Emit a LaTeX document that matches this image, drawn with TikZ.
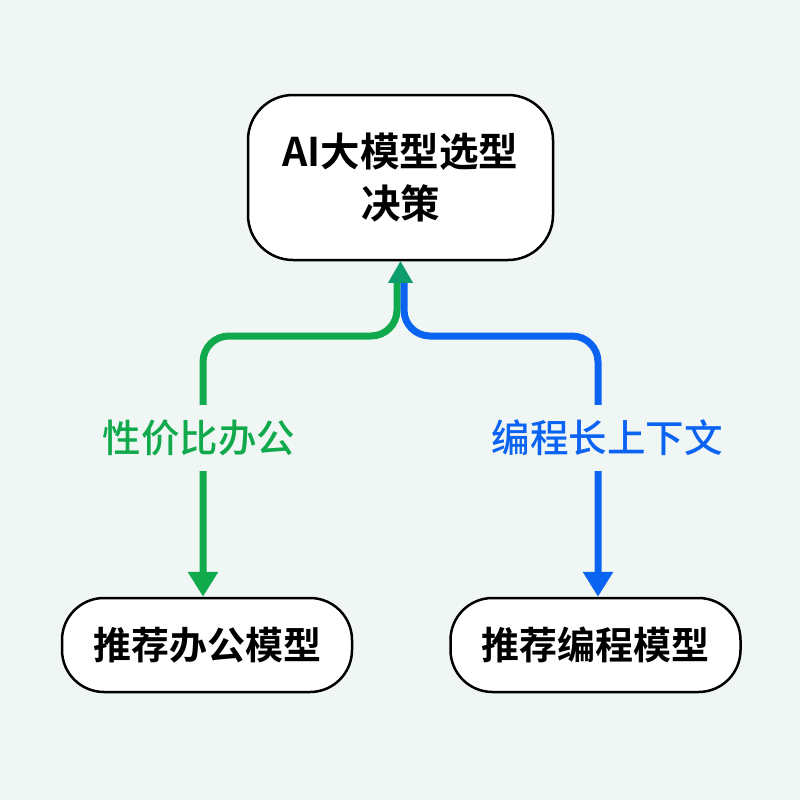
\documentclass[tikz,border=0pt]{standalone}
\usepackage{fontspec}
\setmainfont{Noto Sans CJK SC}[BoldFont={Noto Sans CJK SC Bold}]
\newfontfamily\cjkmed{Noto Sans CJK SC Medium}
\usetikzlibrary{arrows.meta,calc}
\definecolor{bgc}{HTML}{F0F6F4}
\definecolor{gline}{HTML}{10AA4C}
\definecolor{bline}{HTML}{0B63F2}
\definecolor{tealc}{HTML}{0E9E6E}
\tikzset{
  box/.style={draw=black,line width=2.5pt,fill=white,align=center,font=\fontsize{39.5}{52}\selectfont\bfseries},
  sbox/.style={box,font=\fontsize{38}{46}\selectfont\bfseries},
  conn/.style={line width=7pt,rounded corners=26pt},
  lbl/.style={fill=bgc,inner sep=5pt,font=\fontsize{38.5}{44}\selectfont\cjkmed}
}
\begin{document}
\begin{tikzpicture}[x=1pt,y=-1pt]
\fill[bgc] (0,0) rectangle (800,800);
\useasboundingbox (0,0) rectangle (800,800);
\node[box,minimum width=305pt,minimum height=165pt,rounded corners=45pt] (top) at (400.5,177.5) {\raisebox{-4pt}{\parbox{270pt}{\centering AI大模型选型\\决策}}};
\node[sbox,minimum width=290pt,minimum height=94pt,rounded corners=42pt] (bl) at (207,645) {推荐办公模型};
\node[sbox,minimum width=290pt,minimum height=94pt,rounded corners=42pt] (br) at (595.5,645) {推荐编程模型};
\coordinate (gs) at ($(top.south)+(-3.5,21)$);
\coordinate (bs) at ($(top.south)+(3.5,21)$);
\coordinate (gm) at (203,336);
\coordinate (bm) at (598,336);
\draw[conn,gline,-{Triangle[length=25pt,width=29pt]}] (gs) |- (gm) -- (gm |- bl.north);
\draw[conn,bline,-{Triangle[length=25pt,width=29pt]}] (bs) |- (bm) -- (bm |- br.north);
\fill[tealc] (top.south) -- ++(-12.5,21.5) -- ++(25,0) -- cycle;
\node[lbl,text=gline,minimum height=66pt] (lg) at (199,438) {性价比办公};
\node[lbl,text=bline,minimum height=66pt] (lb) at (607,438) {编程长上下文};
\end{tikzpicture}
\end{document}
